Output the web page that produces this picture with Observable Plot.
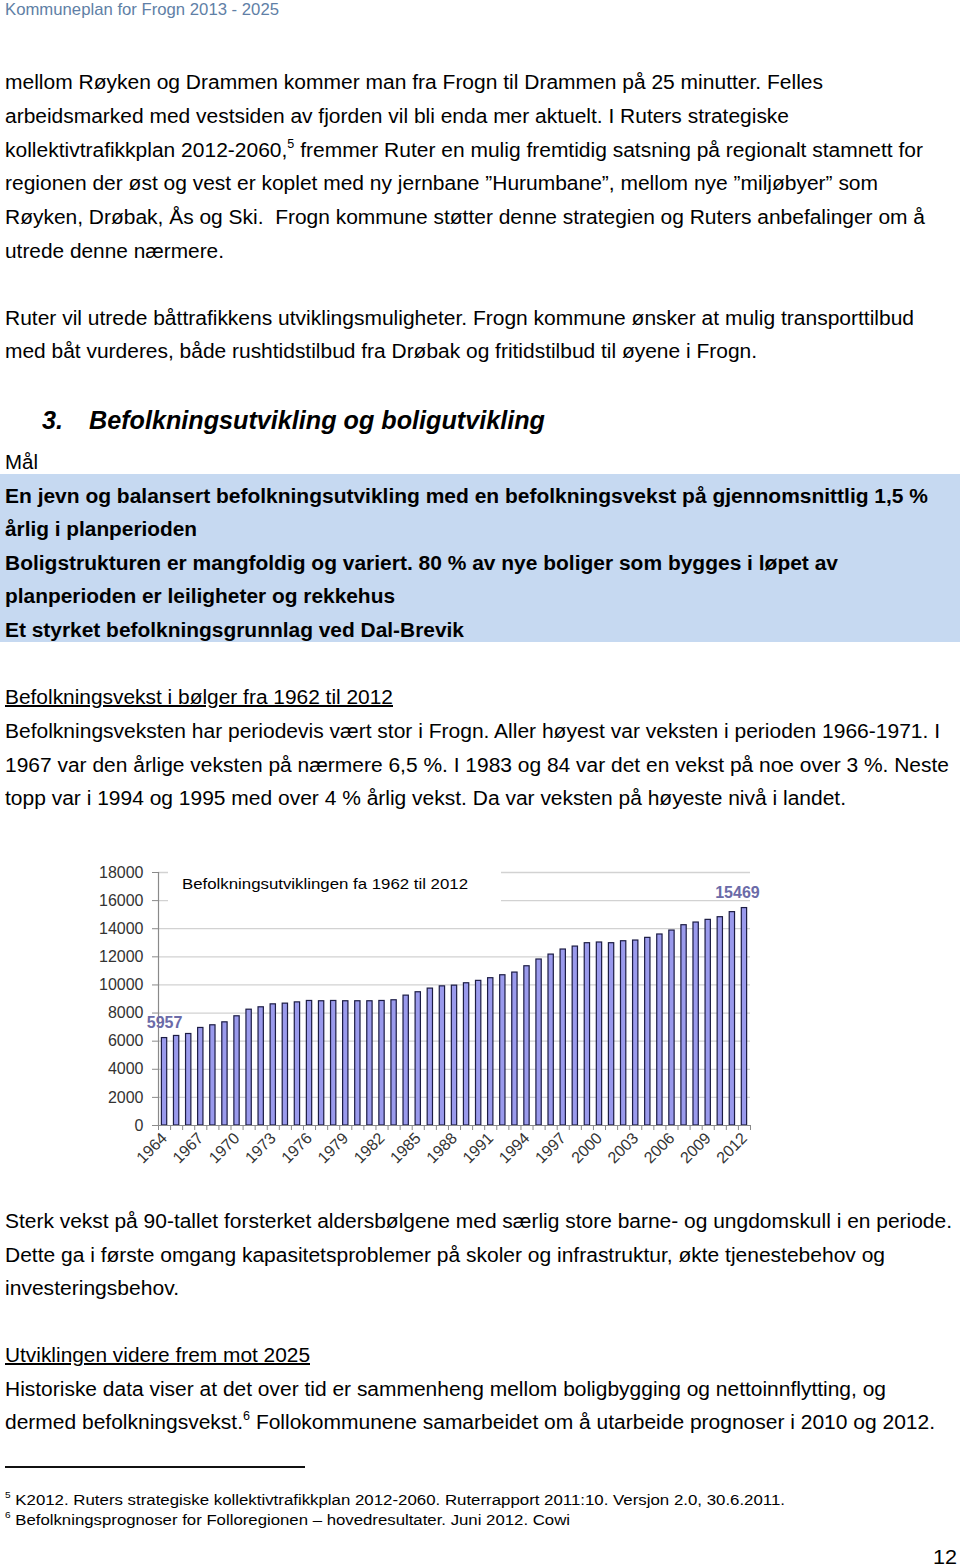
<!DOCTYPE html>
<html><head><meta charset="utf-8">
<script src="https://cdn.jsdelivr.net/npm/d3@7"></script>
<script src="https://cdn.jsdelivr.net/npm/@observablehq/plot@0.6"></script>
<style>
body{margin:0;background:#fff;width:960px;height:1568px;position:relative;overflow:hidden;font-family:"Liberation Sans",Arial,sans-serif;color:#000}
.ln{position:absolute;white-space:nowrap;transform-origin:0 50%;}
#box{position:absolute;left:0;top:474px;width:960px;height:168px;background:#c6d9f1}
#chart{position:absolute;left:0;top:855px}
#ctitle{position:absolute;left:168px;top:860px;width:333px;height:58px;background:#fff}
#sep{position:absolute;left:5px;top:1466px;width:300px;height:1.5px;background:#111}
sup{font-size:0.6em;vertical-align:0;position:relative;top:-0.75em}
</style>
</head><body>
<div id="box"></div>
<div id="chart"></div>
<div id="ctitle"></div>
<div id="sep"></div>
<script>
// ---- chart data ----
const years = [1964,1965,1966,1967,1968,1969,1970,1971,1972,1973,1974,1975,1976,1977,1978,1979,1980,1981,1982,1983,1984,1985,1986,1987,1988,1989,1990,1991,1992,1993,1994,1995,1996,1997,1998,1999,2000,2001,2002,2003,2004,2005,2006,2007,2008,2009,2010,2011,2012];
const population = [6220,6370,6510,6940,7130,7340,7770,8240,8410,8620,8670,8760,8860,8840,8860,8840,8840,8840,8860,8910,9240,9480,9740,9900,9950,10120,10290,10480,10690,10880,11330,11810,12160,12520,12730,12970,13020,12970,13110,13160,13350,13590,13870,14250,14440,14630,14820,15180,15469];
const yTicks = [0,2000,4000,6000,8000,10000,12000,14000,16000,18000];
const xTickYears = [1964,1967,1970,1973,1976,1979,1982,1985,1988,1991,1994,1997,2000,2003,2006,2009,2012];
const labelYears = [1964, 2012];
const labelTexts = ["5957", "15469"];
const chartTitle = "Befolkningsutviklingen fa 1962 til 2012";

const data = years.map((y, i) => ({year: y, value: population[i]}));
const labels = labelYears.map((y, i) => ({year: y, value: population[years.indexOf(y)], text: labelTexts[i]}));
const bounds = [years[0] - 0.5, ...years.map(y => y + 0.5)];

const chart = Plot.plot({
  width: 800, height: 330,
  marginTop: 17, marginBottom: 60, marginLeft: 158, marginRight: 50,
  x: {domain: [years[0] - 0.5, years[years.length - 1] + 0.5]},
  y: {domain: [0, 18000]},
  style: {fontFamily: "'Liberation Sans', Arial, sans-serif", fontSize: "16px", color: "#333", background: "transparent"},
  marks: [
    Plot.ruleY(yTicks.filter(v => v > 0), {stroke: "#d2d2d2", strokeWidth: 1.3}),
    Plot.rectY(data, {x1: d => d.year - 0.22, x2: d => d.year + 0.22, y: "value", fill: "#9a9aec", stroke: "#1c1c44", strokeWidth: 1.2}),
    Plot.ruleX([years[0] - 0.5], {stroke: "#8a8a8a", strokeWidth: 1.2}),
    Plot.ruleY([0], {stroke: "#8a8a8a", strokeWidth: 1.2}),
    Plot.axisY({ticks: yTicks, tickSize: 6, tickPadding: 9, tickFormat: d => String(d), label: null, stroke: "#8a8a8a", fill: "#333"}),
    Plot.axisX({ticks: bounds, tickSize: 5, tickFormat: () => "", label: null, stroke: "#8a8a8a"}),
    Plot.axisX({ticks: xTickYears, tickSize: 0, tickPadding: 10, tickRotate: -45, tickFormat: d => String(d), label: null, fill: "#333"}),
    Plot.text(labels.slice(0, -1), {x: "year", y: "value", text: "text", dy: -15, fontWeight: "bold", fontSize: 16, fill: "#6b6ba8"}),
    Plot.text(labels.slice(-1), {x: "year", y: "value", text: "text", dy: -15, dx: -7, fontWeight: "bold", fontSize: 16, fill: "#6b6ba8"})
  ]
});
document.getElementById("chart").appendChild(chart);
document.getElementById("ctitle").innerHTML = "";

// ---- page text ----
const lines = [
  {t: "Kommuneplan for Frogn 2013 - 2025", x: 5, y: 10, r: 279, fs: 17, c: "#5f7fa6"},
  {t: "mellom Røyken og Drammen kommer man fra Frogn til Drammen på 25 minutter. Felles", x: 5, y: 82, r: 823, fs: 20},
  {t: "arbeidsmarked med vestsiden av fjorden vil bli enda mer aktuelt. I Ruters strategiske", x: 5, y: 116, r: 789, fs: 20},
  {t: "kollektivtrafikkplan 2012-2060,<sup>5</sup> fremmer Ruter en mulig fremtidig satsning på regionalt stamnett for", x: 5, y: 150, r: 923, fs: 20},
  {t: "regionen der øst og vest er koplet med ny jernbane ”Hurumbane”, mellom nye ”miljøbyer” som", x: 5, y: 183, r: 878, fs: 20},
  {t: "Røyken, Drøbak, Ås og Ski.&nbsp; Frogn kommune støtter denne strategien og Ruters anbefalinger om å", x: 5, y: 217, r: 925, fs: 20},
  {t: "utrede denne nærmere.", x: 5, y: 251, r: 224, fs: 20},
  {t: "Ruter vil utrede båttrafikkens utviklingsmuligheter. Frogn kommune ønsker at mulig transporttilbud", x: 5, y: 318, r: 914, fs: 20},
  {t: "med båt vurderes, både rushtidstilbud fra Drøbak og fritidstilbud til øyene i Frogn.", x: 5, y: 351, r: 757, fs: 20},
  {t: "3.", x: 42, y: 420, r: 63, fs: 25, b: 1, i: 1},
  {t: "Befolkningsutvikling og boligutvikling", x: 89, y: 420, r: 545, fs: 25, b: 1, i: 1},
  {t: "Mål", x: 5, y: 462, r: 38, fs: 20},
  {t: "En jevn og balansert befolkningsutvikling med en befolkningsvekst på gjennomsnittlig 1,5 %", x: 5, y: 496, r: 928, fs: 20, b: 1},
  {t: "årlig i planperioden", x: 5, y: 529, r: 197, fs: 20, b: 1},
  {t: "Boligstrukturen er mangfoldig og variert. 80 % av nye boliger som bygges i løpet av", x: 5, y: 563, r: 838, fs: 20, b: 1},
  {t: "planperioden er leiligheter og rekkehus", x: 5, y: 596, r: 395, fs: 20, b: 1},
  {t: "Et styrket befolkningsgrunnlag ved Dal-Brevik", x: 5, y: 630, r: 464, fs: 20, b: 1},
  {t: "Befolkningsvekst i bølger fra 1962 til 2012", x: 5, y: 697, r: 393, fs: 20, u: 1},
  {t: "Befolkningsveksten har periodevis vært stor i Frogn. Aller høyest var veksten i perioden 1966-1971. I", x: 5, y: 731, r: 940, fs: 20},
  {t: "1967 var den årlige veksten på nærmere 6,5 %. I 1983 og 84 var det en vekst på noe over 3 %. Neste", x: 5, y: 765, r: 949, fs: 20},
  {t: "topp var i 1994 og 1995 med over 4 % årlig vekst. Da var veksten på høyeste nivå i landet.", x: 5, y: 798, r: 846, fs: 20},
  {t: chartTitle, x: 182, y: 884, r: 468, fs: 15},
  {t: "Sterk vekst på 90-tallet forsterket aldersbølgene med særlig store barne- og ungdomskull i en periode.", x: 5, y: 1221, r: 952, fs: 20},
  {t: "Dette ga i første omgang kapasitetsproblemer på skoler og infrastruktur, økte tjenestebehov og", x: 5, y: 1255, r: 885, fs: 20},
  {t: "investeringsbehov.", x: 5, y: 1288, r: 179, fs: 20},
  {t: "Utviklingen videre frem mot 2025", x: 5, y: 1355, r: 310, fs: 20, u: 1},
  {t: "Historiske data viser at det over tid er sammenheng mellom boligbygging og nettoinnflytting, og", x: 5, y: 1389, r: 886, fs: 20},
  {t: "dermed befolkningsvekst.<sup>6</sup> Follokommunene samarbeidet om å utarbeide prognoser i 2010 og 2012.", x: 5, y: 1422, r: 935, fs: 20},
  {t: "<sup>5</sup> K2012. Ruters strategiske kollektivtrafikkplan 2012-2060. Ruterrapport 2011:10. Versjon 2.0, 30.6.2011.", x: 5, y: 1500, r: 785, fs: 15.5},
  {t: "<sup>6</sup> Befolkningsprognoser for Folloregionen – hovedresultater. Juni 2012. Cowi", x: 5, y: 1520, r: 570, fs: 15.5},
  {t: "12", x: 933, y: 1557, r: 957, fs: 21}
];
for (const L of lines) {
  const d = document.createElement("div");
  d.className = "ln";
  d.innerHTML = L.t;
  d.style.fontSize = L.fs + "px";
  d.style.lineHeight = (L.fs * 1.2) + "px";
  d.style.left = L.x + "px";
  d.style.top = (L.y - L.fs * 0.6) + "px";
  if (L.b) d.style.fontWeight = "bold";
  if (L.i) d.style.fontStyle = "italic";
  if (L.u) d.style.textDecoration = "underline";
  if (L.c) d.style.color = L.c;
  document.body.appendChild(d);
  const w = d.getBoundingClientRect().width;
  if (w > 0) d.style.transform = `scaleX(${(L.r - L.x) / w})`;
}
</script>
</body></html>
